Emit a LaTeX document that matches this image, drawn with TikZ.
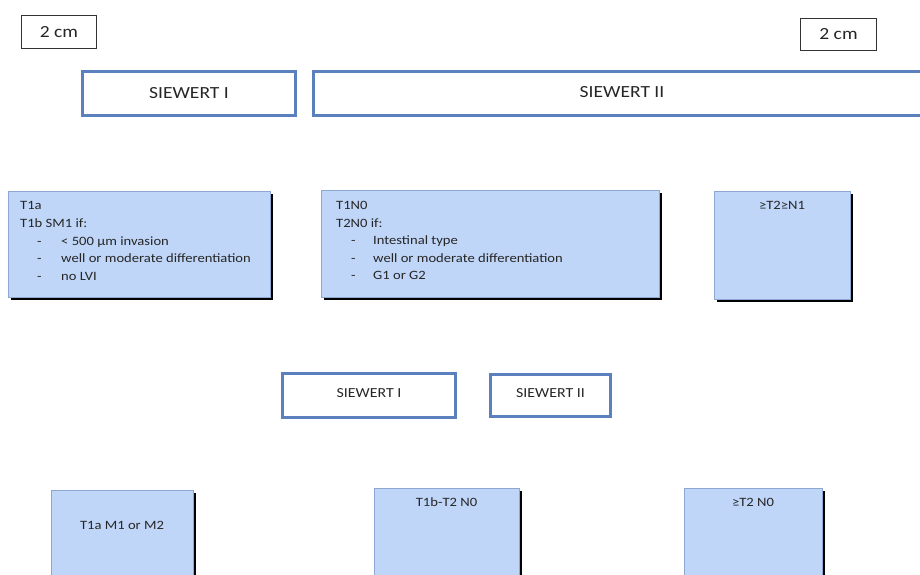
\documentclass[tikz,border=0pt]{standalone}
\usepackage{fontspec}
\setmainfont{Carlito}[FakeStretch=1.15]
\usetikzlibrary{shadows}
\definecolor{sblue}{HTML}{5A80BE}
\definecolor{lfill}{HTML}{C0D6F8}
\definecolor{lborder}{HTML}{8DA8D0}
\definecolor{txtc}{HTML}{262626}
\begin{document}
\begin{tikzpicture}[x=1pt,y=-1pt,
  sbox/.style={draw=sblue, line width=3pt, fill=white, inner sep=0pt, text=txtc, font=\fontsize{17}{20}\selectfont},
  smbox/.style={sbox, font=\fontsize{13.8}{16}\selectfont},
  cmbox/.style={draw=black!80, line width=0.8pt, fill=white, inner sep=0pt, text=txtc, font=\fontsize{17}{20}\selectfont},
  lbox/.style={draw=lborder, line width=0.8pt, fill=lfill, inner sep=0pt,
    drop shadow={shadow xshift=3pt, shadow yshift=-3pt, fill=black, opacity=1}},
  btxt/.style={inner sep=0pt, text=txtc, align=left, font=\fontsize{12.7}{17.6}\selectfont},
  ctxt/.style={inner sep=0pt, text=txtc, font=\fontsize{12.7}{15}\selectfont}]
\useasboundingbox (0,0) rectangle (920,575);
\clip (0,0) rectangle (920,575);
\fill[white] (0,0) rectangle (920,575);

% scale boxes
\node[cmbox, minimum width=75pt, minimum height=33pt] (cmL) at (59,32) {2 cm};
\node[cmbox, minimum width=76pt, minimum height=32pt] (cmR) at (838.5,34) {2 cm};

% top Siewert boxes
\node[sbox, minimum width=213pt, minimum height=44pt] (s1) at (189,93.5) {SIEWERT I};
\node[sbox, minimum width=618pt, minimum height=44pt, anchor=west] (s2) at (311.5,93.5) {};
\node[inner sep=0pt, text=txtc, font=\fontsize{17}{20}\selectfont] (s2t) at (622,92) {SIEWERT II};

% criteria boxes
\node[lbox, minimum width=262pt, minimum height=106pt] (b1) at (139,244) {};
\node[lbox, minimum width=338pt, minimum height=107pt] (b2) at (490,243.5) {};
\node[lbox, minimum width=136pt, minimum height=108pt] (b3) at (782,245) {};

\node[btxt, anchor=north west] (b1t) at (20,201.5) {T1a\\T1b SM1 if:\\
  \hspace*{17pt}\makebox[24pt][l]{-}< 500 µm invasion\\
  \hspace*{17pt}\makebox[24pt][l]{-}well or moderate differentiation\\
  \hspace*{17pt}\makebox[24pt][l]{-}no LVI};
\node[btxt, anchor=north west] (b2t) at (336,201) {T1N0\\T2N0 if:\\
  \hspace*{15pt}\makebox[22pt][l]{-}Intestinal type\\
  \hspace*{15pt}\makebox[22pt][l]{-}well or moderate differentiation\\
  \hspace*{15pt}\makebox[22pt][l]{-}G1 or G2};
\node[ctxt] (b3t) at (782,205) {≥T2≥N1};

% middle Siewert boxes
\node[smbox, minimum width=173pt, minimum height=44pt] (m1) at (369,395.5) {\raisebox{4pt}{SIEWERT I}};
\node[smbox, minimum width=120pt, minimum height=42pt] (m2) at (550.5,395.5) {\raisebox{4pt}{SIEWERT II}};

% bottom boxes
\node[lbox, minimum width=142pt, minimum height=110pt, anchor=north] (c1) at (122,490) {};
\node[lbox, minimum width=145pt, minimum height=110pt, anchor=north] (c2) at (446.5,488) {};
\node[lbox, minimum width=138pt, minimum height=110pt, anchor=north] (c3) at (753,488) {};
\node[ctxt] (c1t) at (122,525) {T1a M1 or M2};
\node[ctxt] (c2t) at (446.5,502) {T1b-T2 N0};
\node[ctxt] (c3t) at (753,502) {≥T2 N0};
\end{tikzpicture}
\end{document}
